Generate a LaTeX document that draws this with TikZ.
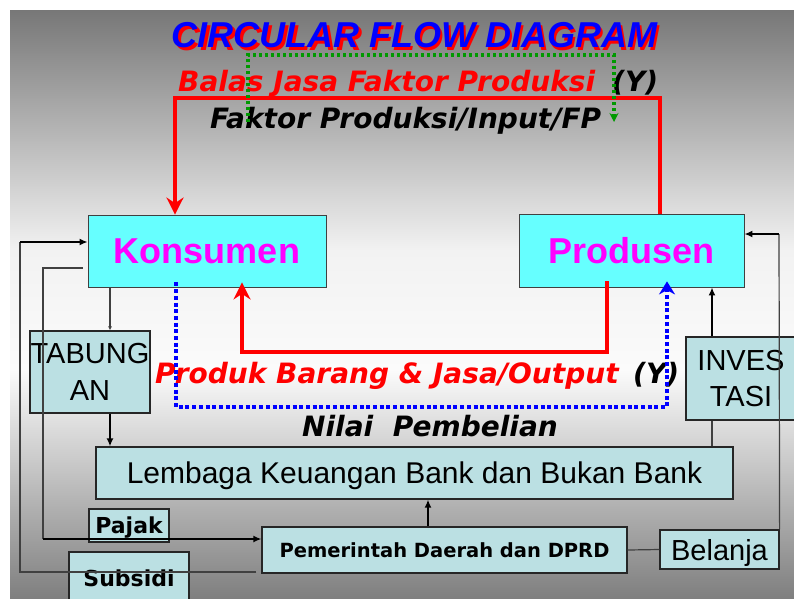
\documentclass[tikz,border=0pt]{standalone}
\usepackage{fontspec}
\setmainfont{Liberation Sans}
\newfontfamily\verdfont{DejaVu Sans}[ItalicFont={DejaVu Sans Oblique}, BoldItalicFont={DejaVu Sans Bold Oblique}]
\usetikzlibrary{arrows.meta,calc}
\definecolor{boxcyan}{HTML}{66FFFF}
\definecolor{boxpale}{HTML}{BBE0E3}
\definecolor{bgdark}{HTML}{777777}
\definecolor{bgmid}{HTML}{F2F2F2}
\definecolor{bglight}{HTML}{FBFBFB}
\definecolor{bgbottom}{HTML}{7F7F7F}
\definecolor{flowgreen}{HTML}{009900}
\definecolor{flowred}{HTML}{FF0000}
\definecolor{flowblue}{HTML}{0000FF}
\definecolor{namemagenta}{HTML}{FF00FF}
\tikzset{
        box_main/.style={draw=black!75, fill=boxcyan, line width=0.8pt, inner sep=0pt,
                         text depth=0pt, text=namemagenta, font=\fontsize{36}{40}\selectfont\bfseries},
        box_sub/.style={draw=black!85, fill=boxpale, line width=1.2pt, inner sep=0pt,
                        text depth=0pt, align=center},
        title_txt/.style={anchor=base, inner sep=0pt, font=\fontsize{36}{40}\selectfont\bfseries\itshape},
        lbl_flow/.style={anchor=base west, inner sep=0pt, font=\verdfont\bfseries\itshape\fontsize{28}{30}\selectfont},
        flow_red/.style={draw=flowred, line width=4.3pt, -{Stealth[length=17pt,width=17pt]}},
        flow_blue/.style={draw=flowblue, line width=4pt, dash pattern=on 4pt off 2.7pt,
                          -{Stealth[length=13pt,width=16pt]}},
        flow_green/.style={draw=flowgreen, line width=3.3pt, dash pattern=on 3.3pt off 2.7pt,
                           -{Stealth[length=9pt,width=9pt]}},
        flow_thin/.style={draw=black!75, line width=1.2pt},
        flow_arr/.style={draw=black, line width=1.6pt, -{Latex[length=8pt,width=7pt]}}
    }
\begin{document}
\begin{tikzpicture}[x=1pt, y=-1pt]
    \useasboundingbox (0,0) rectangle (794,598);
    % background
    \fill[white] (0,0) rectangle (794,598);
    \shade[top color=bgdark, bottom color=bgmid] (10,10) rectangle (794,250.5);
    \shade[top color=bgmid, bottom color=bglight] (10,250) rectangle (794,370.5);
    \shade[top color=bglight, bottom color=bgbottom] (10,370) rectangle (794,598);

    % title
    \node[title_txt, text=flowred] (title_sh) at (417,50) {CIRCULAR FLOW DIAGRAM};
    \node[title_txt, text=flowblue] (title) at (414.5,47) {CIRCULAR FLOW DIAGRAM};

    % boxes
    \node[box_main, minimum width=238pt, minimum height=72pt] (kon) at (207,251) {Konsumen};
    \node[box_main, minimum width=225pt, minimum height=73pt] (pro) at (631.5,250.5) {Produsen};
    \node[box_sub, minimum width=120pt, minimum height=82pt,
          font=\fontsize{29}{37}\selectfont] (tab) at (90,372) {TABUNG\\AN};
    \node[box_sub, minimum width=110pt, minimum height=83pt,
          font=\fontsize{29}{36}\selectfont] (inv) at (741,378.5) {INVES\\TASI};
    \node[box_sub, minimum width=637pt, minimum height=52pt,
          font=\fontsize{30}{34}\selectfont] (lem) at (414.5,473) {Lembaga Keuangan Bank dan Bukan Bank};
    \node[box_sub, minimum width=80pt, minimum height=33pt,
          font=\verdfont\bfseries\fontsize{22}{26}\selectfont] (paj) at (129,525.5) {Pajak};
    \node[box_sub, minimum width=365pt, minimum height=46pt,
          font=\verdfont\bfseries\fontsize{19.5}{23}\selectfont] (pem) at (444.5,550) {Pemerintah Daerah dan DPRD};
    \node[box_sub, minimum width=120pt, minimum height=52pt,
          font=\verdfont\bfseries\fontsize{22}{26}\selectfont] (sub) at (129,578) {Subsidi};
    \node[box_sub, minimum width=119pt, minimum height=39pt,
          font=\fontsize{29}{33}\selectfont] (bel) at (719.5,549.5) {Belanja};

    % flow labels
    \node[lbl_flow, text=flowred] (balas) at (178,91) {Balas Jasa Faktor Produksi};
    \node[lbl_flow] (balas_y) at (612,91) {(Y)};
    \node[lbl_flow] (faktor) at (210,128) {Faktor Produksi/Input/FP};
    \node[lbl_flow, text=flowred] (produk) at (155,383) {Produk Barang \& Jasa/Output};
    \node[lbl_flow] (produk_y) at (633,383) {(Y)};
    \node[lbl_flow] (nilai) at (302,436) {Nilai\ \ Pembelian};

    % thin flows round the institutions
    \coordinate (sub_b) at (20,572);
    \coordinate (sub_t) at (20,242);
    \draw[flow_thin] ($(pem.west)+(-5,22)$) -- (sub_b) -- (sub_t);
    \draw[flow_arr] (sub_t) -- (kon.west |- sub_t);
    \coordinate (paj_t) at (43,268);
    \coordinate (paj_b) at (43,539);
    \draw[flow_thin] ($(kon.west)+(-5,17)$) -- (paj_t) -- (paj_b);
    \draw[flow_arr] (paj_b) -- (pem.west |- paj_b);
    \draw[flow_thin, -{Latex[length=4pt,width=4pt]}] ($(kon.south)+(-97,0)$) -- ($(tab.north)+(20,0)$);
    \draw[flow_arr] ($(tab.south)+(20,0)$) coordinate (tab_s) -- (tab_s |- lem.north);
    \draw[flow_arr] ($(pem.north)+(-16.5,0)$) coordinate (pem_n) -- (pem_n |- lem.south);
    \draw[flow_thin] (pem.east) -- (bel.west);
    \draw[flow_thin] ($(lem.north)+(297.5,0)$) coordinate (lem_n) -- (lem_n |- inv.south);
    \draw[flow_arr] ($(inv.north)+(-29,0)$) coordinate (inv_n) -- (inv_n |- pro.south);
    \coordinate (bel_t) at (779,234);
    \draw[flow_thin] (bel.north east) -- (bel_t);
    \draw[flow_arr] (bel_t) -- (pro.east |- bel_t);

    % main circular flows
    \coordinate (r_top_r) at (660,98);
    \coordinate (r_top_l) at (175,98);
    \draw[flow_red] (pro.north -| r_top_r) -- (r_top_r) -- (r_top_l) -- (kon.north -| r_top_l);
    \coordinate (r_bot_r) at (607,352);
    \coordinate (r_bot_l) at (242,352);
    \draw[flow_red] ($(pro.south -| r_bot_r)+(0,-6)$) -- (r_bot_r) -- (r_bot_l)
        -- ($(kon.south -| r_bot_l)+(0,-5)$);
    \coordinate (b_bot_l) at (176,407);
    \coordinate (b_bot_r) at (667,407);
    \draw[flow_blue] ($(kon.south -| b_bot_l)+(0,-5)$) -- (b_bot_l) -- (b_bot_r)
        -- ($(pro.south -| b_bot_r)+(0,-6)$);
    \coordinate (g_start) at (248,122);
    \coordinate (g_l) at (248,55);
    \coordinate (g_r) at (614,55);
    \coordinate (g_end) at (614,122);
    \draw[flow_green] (g_start) -- (g_l) -- (g_r) -- (g_end);
\end{tikzpicture}
\end{document}
